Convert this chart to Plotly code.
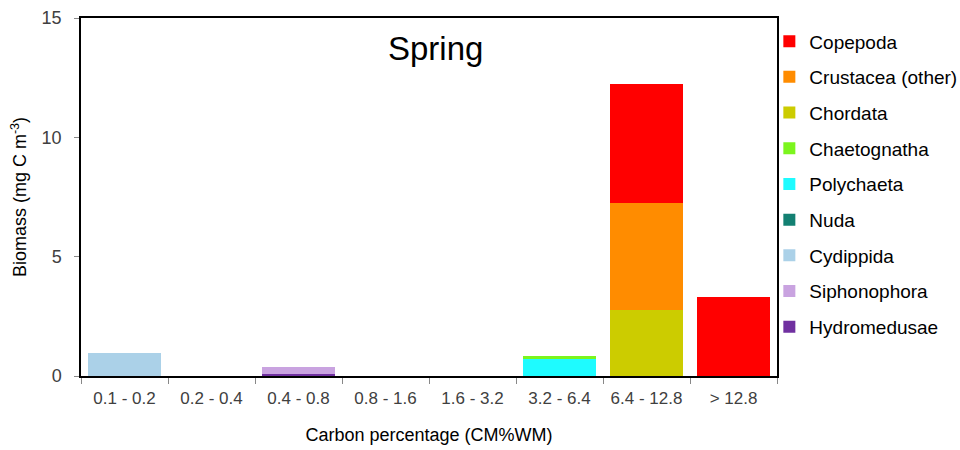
import plotly.graph_objects as go

categories = ["0.1 - 0.2", "0.2 - 0.4", "0.4 - 0.8", "0.8 - 1.6", "1.6 - 3.2", "3.2 - 6.4", "6.4 - 12.8", "> 12.8"]

hydromedusae = [0, 0, 0.10, 0, 0, 0, 0, 0]
siphonophora = [0, 0, 0.27, 0, 0, 0, 0, 0]
cydippida = [0.95, 0, 0, 0, 0, 0, 0, 0]
nuda = [0, 0, 0, 0, 0, 0, 0, 0]
polychaeta = [0, 0, 0, 0, 0, 0.70, 0, 0]
chaetognatha = [0, 0, 0, 0, 0, 0.15, 0, 0]
chordata = [0, 0, 0, 0, 0, 0, 2.78, 0]
crustacea = [0, 0, 0, 0, 0, 0, 4.45, 0]
copepoda = [0, 0, 0, 0, 0, 0, 5.02, 3.3]

series = [
    ("Hydromedusae", hydromedusae, "#7030A0"),
    ("Siphonophora", siphonophora, "#C9A3E0"),
    ("Cydippida", cydippida, "#ABD1E8"),
    ("Nuda", nuda, "#138072"),
    ("Polychaeta", polychaeta, "#1EFBFF"),
    ("Chaetognatha", chaetognatha, "#7CF51E"),
    ("Chordata", chordata, "#CCCC00"),
    ("Crustacea (other)", crustacea, "#FF8C00"),
    ("Copepoda", copepoda, "#FF0000"),
]

fig = go.Figure()
n = len(series)
for i, (name, vals, color) in enumerate(series):
    fig.add_trace(go.Bar(
        name=name, x=categories, y=vals,
        marker=dict(color=color, line=dict(width=0)),
        legendgroup=name,
        legendrank=n - i,
    ))

fig.update_layout(
    barmode="stack",
    bargap=0.17,
    width=960, height=450,
    margin=dict(l=81, r=183, t=18, b=74, autoexpand=False),
    paper_bgcolor="white", plot_bgcolor="white",
    font=dict(family="Liberation Sans, Arial, sans-serif", color="#000000"),
    showlegend=True,
    legend=dict(
        x=0.989, y=0.988, xanchor="left", yanchor="top",
        traceorder="grouped", tracegroupgap=8,
        font=dict(size=19, color="#000000"),
        itemwidth=30,
        bgcolor="rgba(0,0,0,0)",
    ),
    annotations=[dict(
        text="Spring", x=0.509, y=0.915, xref="paper", yref="paper",
        showarrow=False, font=dict(size=33, color="#000000"),
        xanchor="center", yanchor="middle",
    )],
)

fig.update_xaxes(
    type="category",
    showline=True, linecolor="#000000", linewidth=1.5, mirror=True,
    ticks="outside", tickson="boundaries", ticklen=6, tickcolor="#888888",
    tickfont=dict(size=17, color="#404040"), ticklabelstandoff=6,
    title=dict(text="Carbon percentage (CM%WM)", font=dict(size=18, color="#000000"), standoff=21),
    showgrid=False,
)
fig.update_yaxes(
    range=[0, 15], tickvals=[0, 5, 10, 15],
    showline=True, linecolor="#000000", linewidth=1.5, mirror=True,
    ticks="outside", ticklen=5, tickcolor="#888888",
    tickfont=dict(size=18, color="#404040"), ticklabelstandoff=9,
    title=dict(text="Biomass (mg C m<sup>-3</sup>)", font=dict(size=18, color="#000000"), standoff=10),
    showgrid=False, zeroline=False,
)

fig.write_html("out.html")
